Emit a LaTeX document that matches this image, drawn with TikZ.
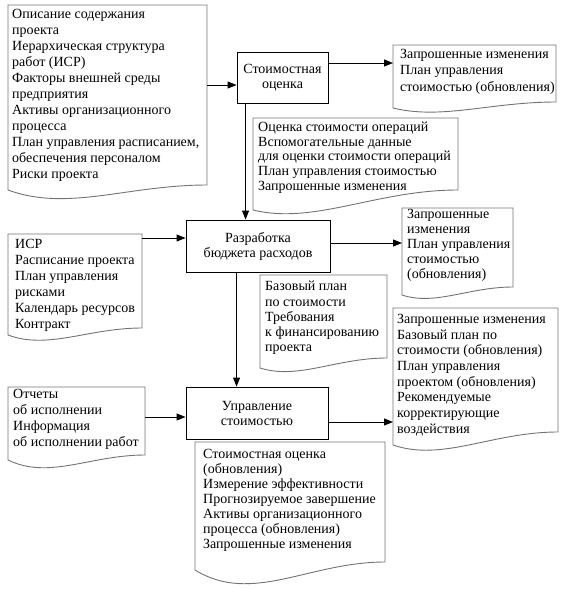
\documentclass[tikz,border=0pt]{standalone}
\usepackage{fontspec}
\setmainfont{Liberation Serif}
\usetikzlibrary{arrows.meta,calc}
\tikzset{
  docline/.style={draw=black!55, line width=0.9pt},
  proc/.style={draw=black, line width=0.9pt, align=center, inner sep=0pt,
    font=\fontsize{14}{15}\selectfont},
  doctext/.style={anchor=north west, align=left, inner sep=0pt,
    execute at begin node={\rule{0pt}{11pt}}},
  arr/.style={-{Triangle[length=9pt,width=7pt]}, line width=0.9pt},
}
\newcommand\docshape[6]{%
  \draw[docline] (#1,#4) .. controls ({#1+0.3*(#3-#1)},{#4+#6}) and ({#1+0.6*(#3-#1)},#5) .. (#3,#5)
    -- (#3,#2) -- (#1,#2) -- cycle;}
\begin{document}
\begin{tikzpicture}[x=1pt,y=-1pt]
\useasboundingbox (0,0) rectangle (565,590);
% document shapes
\docshape{8}{5}{207}{190}{185}{22}
\docshape{393}{45}{556}{108}{102}{12}
\docshape{253}{118}{458}{210}{190}{15}
\docshape{8}{234}{142}{335}{328}{15}
\docshape{402}{208}{513}{295}{287}{11}
\docshape{260}{275}{387}{368}{358}{12}
\docshape{8}{387}{145}{460}{455}{20}
\docshape{393}{308}{558}{445}{432}{17}
\docshape{195}{442}{385}{570}{562}{35}
% texts of documents
\node[doctext, font=\fontsize{14}{16}\selectfont] (t1) at (12,9) {Описание содержания\\проекта\\Иерархическая структура\\работ (ИСР)\\Факторы внешней среды\\предприятия\\Активы организационного\\процесса\\План управления расписанием,\\обеспечения персоналом\\Риски проекта};
\node[doctext, font=\fontsize{14}{16.5}\selectfont] (t2) at (400,49) {Запрошенные изменения\\План управления\\стоимостью (обновления)};
\node[doctext, font=\fontsize{14}{14.6}\selectfont] (t3) at (258,122) {Оценка стоимости операций\\Вспомогательные данные\\для оценки стоимости операций\\План управления стоимостью\\Запрошенные изменения};
\node[doctext, font=\fontsize{14}{16}\selectfont] (t4) at (15,239) {ИСР\\Расписание проекта\\План управления\\рисками\\Календарь ресурсов\\Контракт};
\node[doctext, font=\fontsize{14}{15}\selectfont] (t5) at (407,209) {Запрошенные\\изменения\\План управления\\стоимостью\\(обновления)};
\node[doctext, font=\fontsize{14}{15.3}\selectfont] (t6) at (265,281) {Базовый план\\по стоимости\\Требования\\к финансированию\\проекта};
\node[doctext, font=\fontsize{14}{16}\selectfont] (t7) at (13,389) {Отчеты\\об исполнении\\Информация\\об исполнении работ};
\node[doctext, font=\fontsize{14}{15.7}\selectfont] (t8) at (397,314) {Запрошенные изменения\\Базовый план по\\стоимости (обновления)\\План управления\\проектом (обновления)\\Рекомендуемые\\корректирующие\\воздействия};
\node[doctext, font=\fontsize{14}{15}\selectfont] (t9) at (203,449) {Стоимостная оценка\\(обновления)\\Измерение эффективности\\Прогнозируемое завершение\\Активы организационного\\процесса (обновления)\\Запрошенные изменения};
% process boxes
\node[proc, minimum width=91pt, minimum height=51pt] (b1) at (282.5,77.5) {Стоимостная\\оценка};
\node[proc, minimum width=144pt, minimum height=52pt] (b2) at (258,246) {Разработка\\бюджета расходов};
\node[proc, minimum width=142pt, minimum height=52pt] (b3) at (257,413) {Управление\\стоимостью};
% connector ends on documents
\coordinate (d1o) at (207,85);
\coordinate (d2i) at (393,63);
\coordinate (d4o) at (142,238);
\coordinate (d5i) at (402,243);
\coordinate (d7o) at (145,417);
\coordinate (d8i) at (393,422);
% connectors
\draw[arr] (d1o) -- (d1o -| b1.west);
\draw[arr] (b1.east |- d2i) -- (d2i);
\draw[arr] ([xshift=9pt]b1.south west) -- ([xshift=9pt]b1.south west |- b2.north);
\draw[arr] (d4o) -- (d4o -| b2.west);
\draw[arr] (b2.east |- d5i) -- (d5i);
\draw[arr] ([xshift=51pt]b2.south west) -- ([xshift=51pt]b2.south west |- b3.north);
\draw[arr] (d7o) -- (d7o -| b3.west);
\draw[arr] (b3.east |- d8i) -- (d8i);
\end{tikzpicture}
\end{document}
